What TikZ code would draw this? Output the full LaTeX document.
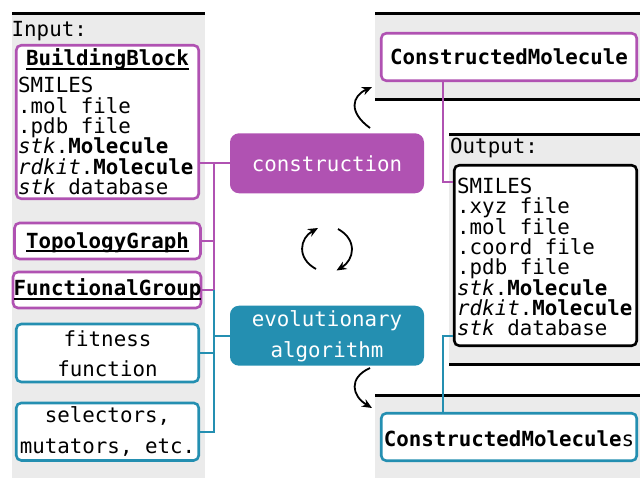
\documentclass[tikz,border=0pt]{standalone}
\usepackage{fontspec}
\setmainfont{DejaVu Sans Mono}
\usetikzlibrary{arrows.meta}
\definecolor{pur}{RGB}{176,82,178}
\definecolor{tl}{RGB}{36,143,177}
\definecolor{pgray}{RGB}{235,235,235}
\newcommand\fsz{\fontsize{20.8}{20.35}\selectfont}
\newcommand\fszw{\fontsize{20.8}{30.7}\selectfont}
\newcommand\myul[1]{\setbox0\hbox{#1}\rlap{\rule[-4.2pt]{\wd0}{2pt}}\box0}
\newcommand\st{\rule{0pt}{16pt}}
\begin{document}
\begin{tikzpicture}[x=1pt,y=-1pt,
  panel/.style={fill=pgray,draw=none},
  bar/.style={line width=3pt,draw=black},
  pbox/.style={draw=pur,line width=2.6pt,rounded corners=5pt,fill=white,inner sep=0},
  tbox/.style={draw=tl,line width=2.6pt,rounded corners=5pt,fill=white,inner sep=0},
  kbox/.style={draw=black,line width=2.6pt,rounded corners=5pt,fill=white,inner sep=0},
  pfill/.style={fill=pur,draw=none,rounded corners=9pt,inner sep=0},
  tfill/.style={fill=tl,draw=none,rounded corners=9pt,inner sep=0},
  txt/.style={inner sep=0,font=\fsz,align=left},
  ctxt/.style={inner sep=0,font=\fszw,align=center},
  pline/.style={draw=pur,line width=1.8pt},
  tline/.style={draw=tl,line width=1.8pt},
  arr/.style={draw=black,line width=1.8pt,-{Stealth[length=10pt,width=8.5pt]}}]
\useasboundingbox (0,0) rectangle (640,478);
% panels
\fill[panel] (12,14) rectangle (205,478);
\draw[bar] (12,14) -- (205,14);
\fill[panel] (375,14) rectangle (640,100);
\draw[bar] (375,14) -- (640,14);
\draw[bar] (375,100) -- (640,100);
\fill[panel] (449,135) rectangle (640,364);
\draw[bar] (449,135) -- (640,135);
\draw[bar] (449,364) -- (640,364);
\fill[panel] (375,395) rectangle (640,478);
\draw[bar] (375,395) -- (640,395);
% labels
\node[txt,anchor=base west] (inp) at (11.5,36.7) {Input:};
\node[txt,anchor=base west] (outp) at (450,154) {Output:};
% input boxes
\node[pbox,minimum width=182.5pt,minimum height=153.5pt] (bb) at (107.5,122) {};
\node[txt,anchor=base] (bbt) at (107.5,66) {\myul{\textbf{BuildingBlock}}};
\node[txt,anchor=north west] (bbl) at (18,76.7) {\st SMILES\\.mol file\\.pdb file\\\textit{stk}.\textbf{Molecule}\\\textit{rdkit}.\textbf{Molecule}\\\textit{stk} database};
\node[pbox,minimum width=186pt,minimum height=36pt] (tg) at (107.5,241) {};
\node[txt,anchor=base] (tgt) at (107.5,248.3) {\myul{\textbf{TopologyGraph}}};
\node[pbox,minimum width=188pt,minimum height=36pt] (fg) at (107,290) {};
\node[txt,anchor=base] (fgt) at (107.5,296) {\myul{\textbf{FunctionalGroup}}};
\node[tbox,minimum width=182.5pt,minimum height=58pt] (ff) at (107.5,353) {};
\node[ctxt,anchor=north] (fft) at (107.5,330) {\st fitness\\function};
\node[tbox,minimum width=182.5pt,minimum height=57.5pt] (sel) at (107.5,431.7) {};
\node[ctxt,anchor=north] (selt) at (107.5,406.7) {\st selectors,\\mutators, etc.};
% middle
\node[pfill,minimum width=194pt,minimum height=60pt] (con) at (327,163.3) {};
\node[txt,anchor=base,text=white] (cont) at (327,171.7) {construction};
\node[tfill,minimum width=194pt,minimum height=60pt] (evo) at (327,335.7) {};
\node[ctxt,anchor=north,text=white,font=\fontsize{20.8}{31}\selectfont] (evot) at (327,310.7) {\st evolutionary\\algorithm};
% output
\node[pbox,minimum width=255.5pt,minimum height=47.5pt] (cm) at (509,57) {};
\node[txt,anchor=base] (cmt) at (509,65) {\textbf{ConstructedMolecule}};
\node[kbox,minimum width=182.5pt,minimum height=180.5pt] (out) at (545.5,255.5) {};
\node[txt,anchor=north west] (outl) at (457,177.3) {\st SMILES\\.xyz file\\.mol file\\.coord file\\.pdb file\\\textit{stk}.\textbf{Molecule}\\\textit{rdkit}.\textbf{Molecule}\\\textit{stk} database};
\node[tbox,minimum width=255.5pt,minimum height=47.5pt] (cms) at (509,437) {};
\node[txt,anchor=base] (cmst) at (509,446) {\textbf{ConstructedMolecule}s};
% left connectors
\coordinate (pj) at (214,163.3);
\coordinate (tj) at (214,290);
\draw[pline] (con.west) -- (con.west -| bb.east);
\draw[pline] (pj) |- (tg.east);
\draw[pline] (pj) -- (tj) -- (tj -| fg.east);
\draw[tline] (tj) -- (tj |- sel.east) -- (sel.east);
\draw[tline] (tj |- ff.east) -- (ff.east);
\draw[tline] (tj |- evo.west) -- (evo.west);
% right connectors
\coordinate (c1) at (443,182);
\coordinate (c2) at (443,335.7);
\draw[pline] (c1 |- cm.south) -- (c1) -- (c1 -| out.west);
\draw[tline] (c2 -| out.west) -- (c2) -- (c2 |- cms.north);
% curved arrows
\coordinate (a1s) at (370,128); \coordinate (a1e) at (372,87);
\coordinate (a2s) at (370,368); \coordinate (a2e) at (372,408);
\coordinate (a3s) at (316,269); \coordinate (a3e) at (318,228);
\coordinate (a4s) at (338,229); \coordinate (a4e) at (336.5,270.5);
\draw[arr] (a1s) .. controls (348,112) and (352,96) .. (a1e);
\draw[arr] (a2s) .. controls (348,378) and (352,396) .. (a2e);
\draw[arr] (a3s) .. controls (296,258) and (300,238) .. (a3e);
\draw[arr] (a4s) .. controls (358,240) and (354,260) .. (a4e);
\end{tikzpicture}
\end{document}
